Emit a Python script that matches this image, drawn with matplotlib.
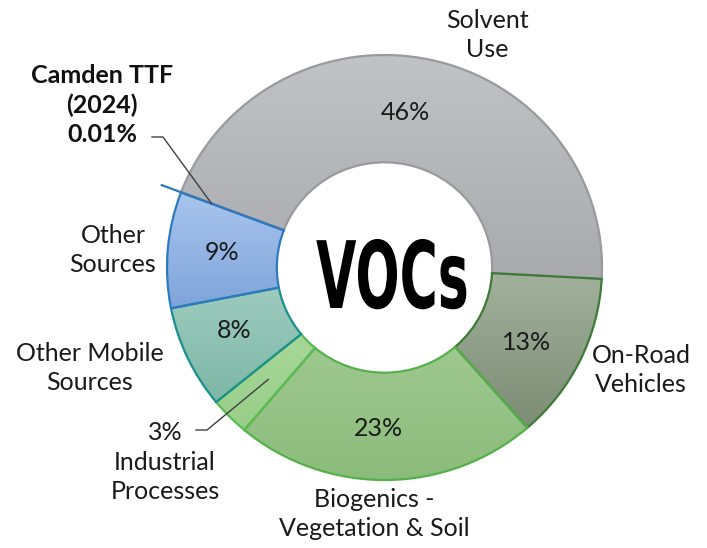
import numpy as np
import matplotlib
matplotlib.use("Agg")
from matplotlib import pyplot as plt
from matplotlib import patheffects
from matplotlib.colors import LinearSegmentedColormap
from matplotlib.transforms import Affine2D

# data, clockwise from the tiny Camden TTF sliver
categories = ["Camden TTF (2024)", "Solvent Use", "On-Road Vehicles",
              "Biogenics - Vegetation & Soil", "Industrial Processes",
              "Other Mobile Sources", "Other Sources"]
shares = [0.01, 46, 13, 23, 3, 8, 9]
pct_labels = ["0.01%", "46%", "13%", "23%", "3%", "8%", "9%"]

# (top colour, bottom colour, edge colour) for each slice
top_cols = ["#a6c3ec", "#c2c3c7", "#a3b29c", "#a9d09a", "#b2dea4", "#a3cfc3", "#a9c5ee"]
bot_cols = ["#7ea3d8", "#a9aaae", "#7d8c75", "#8cbc7c", "#98ce88", "#7db7a6", "#7fa4da"]
edge_cols = ["#2e75b6", "#9a9a9e", "#3d7a35", "#55b04a", "#5cba52", "#17908f", "#2e7ac0"]

plt.rcParams['font.family'] = ['Lato', 'DejaVu Sans']

W, H = 707, 548
fig = plt.figure(figsize=(W / 100, H / 100), dpi=100)
ax = fig.add_axes([0, 0, 1, 1])

# donut bounding box in the picture (pixels)
cx, cy, rx, ry = 384.5, 267.5, 217.5, 212.5


def px(x, y):
    return (x - cx) / rx, (cy - y) / ry


wedges, _ = ax.pie(shares, radius=1.0, startangle=159.3, counterclock=False,
                   wedgeprops=dict(width=0.505, linewidth=1.6))
ax.set_aspect('auto')
ax.axis('off')

grad = np.linspace(0, 1, 256).reshape(-1, 1)
for w, c0, c1, ec in zip(wedges, top_cols, bot_cols, edge_cols):
    cmap = LinearSegmentedColormap.from_list("g", [c0, c1])
    verts = w.get_path().vertices
    x0, y0 = verts.min(axis=0)
    x1, y1 = verts.max(axis=0)
    im = ax.imshow(grad, cmap=cmap, extent=[x0, x1, y0, y1], origin='upper',
                   aspect='auto', interpolation='bilinear', zorder=1)
    im.set_clip_path(w)
    w.set_facecolor('none')
    w.set_edgecolor(ec)
    w.set_zorder(3)

ax.set_xlim(px(0, 0)[0], px(W, 0)[0])
ax.set_ylim(px(0, H)[1], px(0, 0)[1])

# little blue stub where the Camden sliver sits
a = np.deg2rad(wedges[0].theta1)
ax.plot([np.cos(a), 1.1 * np.cos(a)], [np.sin(a), 1.1 * np.sin(a)],
        color=edge_cols[0], lw=1.6, zorder=3, solid_capstyle='butt')

fs = 18
ls = 1.33
# percentages inside the ring
inside = {1: (405, 113), 2: (527, 342), 3: (378, 428), 5: (234, 331), 6: (222, 252)}
for i, (x, y) in inside.items():
    ax.text(*px(x, y), pct_labels[i], ha='center', va='center', fontsize=fs, color='#1a1a1a', zorder=5)

# category labels outside
outside = [("Solvent\nUse", 487, 35), ("On-Road\nVehicles", 641, 370),
           ("Biogenics -\nVegetation & Soil", 374, 514), ("Other Mobile\nSources", 90, 368),
           ("Other\nSources", 113, 250)]
for txt, x, y in outside:
    ax.text(*px(x, y), txt, ha='center', va='center', fontsize=fs, color='#1a1a1a',
            linespacing=ls, zorder=5)

ax.text(*px(165, 462), "3%\nIndustrial\nProcesses", ha='center', va='center', fontsize=fs,
        color='#1a1a1a', linespacing=ls, zorder=5)
ax.text(*px(102, 105), "Camden TTF\n(2024)\n0.01%", ha='center', va='center', fontsize=fs,
        fontweight='bold', color='#111111', linespacing=ls, zorder=5)

# leader lines
def leader(start, elbow, wedge, r):
    ang = np.deg2rad((wedge.theta1 + wedge.theta2) / 2)
    xs = [px(*start)[0], px(*elbow)[0], r * np.cos(ang)]
    ys = [px(*start)[1], px(*elbow)[1], r * np.sin(ang)]
    ax.plot(xs, ys, color='#404040', lw=1.0, zorder=4)

leader((152, 137), (163, 137), wedges[0], 0.85)
leader((196, 430), (207, 430), wedges[4], 0.75)


class Squeeze(patheffects.AbstractPathEffect):
    # narrow the text horizontally to a target width in pixels
    def __init__(self, width_px):
        super().__init__()
        self.width_px = width_px

    def draw_path(self, renderer, gc, tpath, affine, rgbFace=None):
        ext = tpath.transformed(affine).get_extents()
        mid = (ext.x0 + ext.x1) / 2
        sx = self.width_px / max(ext.width, 1)
        aff = affine + Affine2D().translate(-mid, 0).scale(sx, 1).translate(mid, 0)
        renderer.draw_path(gc, tpath, aff, rgbFace)


ax.text(*px(393, 308), "VOCs", ha='center', va='baseline', fontsize=67,
        family=['DejaVu Sans'], fontweight='heavy', fontstretch='condensed', color='black',
        zorder=6, path_effects=[Squeeze(150)])

fig.savefig("out.png", dpi=100)
